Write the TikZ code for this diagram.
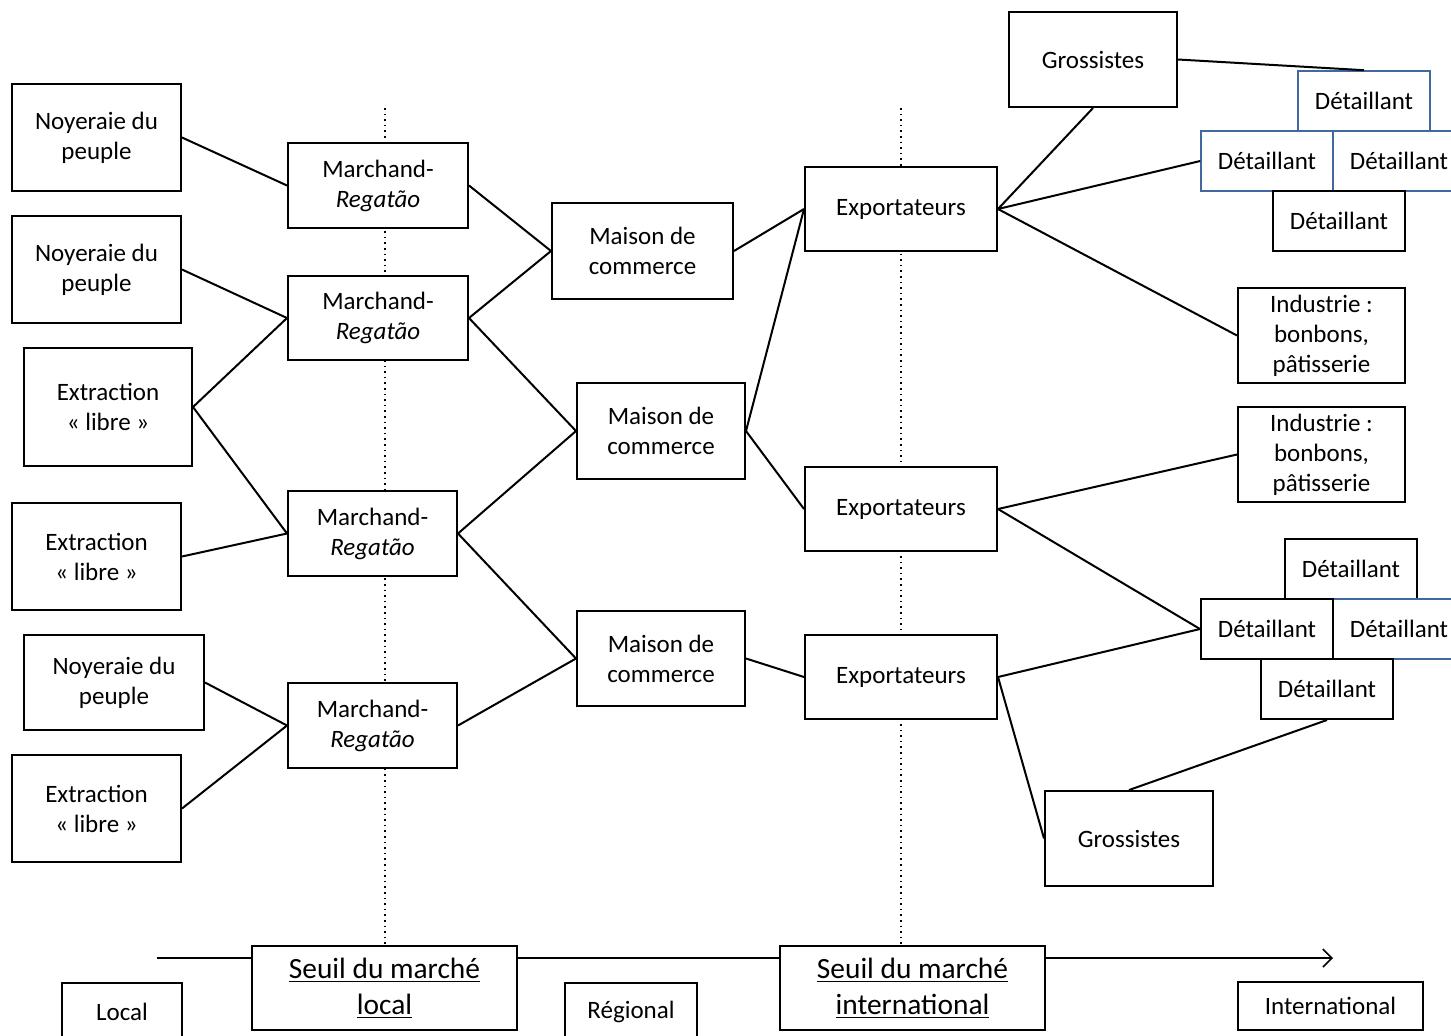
\documentclass[tikz,border=0pt]{standalone}
\usepackage{fontspec}
\setmainfont{Carlito}
\usetikzlibrary{arrows.meta}
\definecolor{bluebox}{RGB}{65,105,160}
\begin{document}
\begin{tikzpicture}[x=0.5pt,y=-0.5pt,
  box/.style={draw=black, line width=1pt, fill=white, align=center, inner sep=0pt,
    font=\fontsize{12.5}{15}\selectfont},
  bbox/.style={box, draw=bluebox, line width=0.8pt},
  det/.style={minimum width=66pt, minimum height=30pt},
  src/.style={minimum width=84.5pt, minimum height=53.5pt},
  mar/.style={minimum width=90pt, minimum height=42.5pt},
  mai/.style={minimum width=84pt, minimum height=48pt},
  exp/.style={minimum width=96pt, minimum height=42pt},
  big/.style={box, font=\fontsize{14.7}{18}\selectfont, minimum width=132.5pt, minimum height=42pt},
  link/.style={line width=1pt},
  guide/.style={dotted, line width=0.8pt}]
\useasboundingbox (0,0) rectangle (1451,1035);
\clip (0,0) rectangle (1451,1035);

% guides and axis (behind boxes)
\coordinate (g1a) at (385,108); \coordinate (g1b) at (385,946);
\coordinate (g2a) at (901,108); \coordinate (g2b) at (901,946);
\draw[guide] (g1a) -- (g1b);
\draw[guide] (g2a) -- (g2b);
\coordinate (axS) at (157,958); \coordinate (axE) at (1333,958);
\draw[line width=1pt, -{Straight Barb[length=4.5pt,width=9pt,line width=0.8pt]}] (axS) -- (axE);

% sources
\node[box, src] (N1) at (96.5,137.5) {Noyeraie du\\peuple};
\node[box, src] (N2) at (96.5,269.5) {Noyeraie du\\peuple};
\node[box, minimum width=84pt, minimum height=59pt] (E1) at (108,407) {Extraction\\« libre »};
\node[box, src] (E2) at (96.5,556.5) {Extraction\\« libre »};
\node[box, minimum width=90pt, minimum height=47.5pt] (N3) at (114,682.5) {Noyeraie du\\peuple};
\node[box, src] (E3) at (96.5,808.5) {Extraction\\« libre »};

% marchands
\node[box, mar] (M1) at (378,185.5) {Marchand-\\\textit{Regatão}};
\node[box, mar, minimum height=42pt] (M2) at (378,318) {Marchand-\\\textit{Regatão}};
\node[box, mar, minimum width=84.5pt] (M3) at (372.5,533.5) {Marchand-\\\textit{Regatão}};
\node[box, mar, minimum width=84.5pt] (M4) at (372.5,725.5) {Marchand-\\\textit{Regatão}};

% maisons
\node[box, mai, minimum width=90.5pt] (H1) at (642.5,251) {Maison de\\commerce};
\node[box, mai] (H2) at (661,431) {Maison de\\commerce};
\node[box, mai, minimum height=47.5pt] (H3) at (661,658.5) {Maison de\\commerce};

% exportateurs
\node[box, exp] (X1) at (901,209) {Exportateurs};
\node[box, exp] (X2) at (901,509) {Exportateurs};
\node[box, exp] (X3) at (901,677) {Exportateurs};

% right side
\node[box, minimum width=84pt, minimum height=47.5pt] (G1) at (1093,59.5) {Grossistes};
\node[bbox, det] (D1) at (1364,101) {Détaillant};
\node[bbox, det] (D2) at (1267,161) {Détaillant};
\node[bbox, det] (D3) at (1399,161) {Détaillant};
\node[box, det] (D4) at (1339,221) {Détaillant};
\node[box, minimum width=83.5pt, minimum height=47.5pt] (I1) at (1321.5,335.5) {Industrie :\\bonbons,\\pâtisserie};
\node[box, minimum width=83.5pt, minimum height=47.5pt] (I2) at (1321.5,454.5) {Industrie :\\bonbons,\\pâtisserie};
\node[box, det] (D5) at (1351,569) {Détaillant};
\node[bbox, det] (D7) at (1399,629) {Détaillant};
\node[box, det] (D6) at (1267,629) {Détaillant};
\node[box, det] (D8) at (1327,689) {Détaillant};
\node[box, minimum width=84pt, minimum height=47.5pt] (G2) at (1129,838.5) {Grossistes};

% bottom scale
\node[box, minimum width=60pt, minimum height=28.5pt] (Lo) at (122,1011.5) {Local};
\node[big] (SL) at (384.5,988) {\underline{Seuil du marché}\\\underline{local}};
\node[box, minimum width=66pt, minimum height=28.5pt] (Re) at (631,1011.5) {Régional};
\node[big] (SI) at (912.5,988) {\underline{Seuil du marché}\\\underline{international}};
\node[box, minimum width=92.5pt, minimum height=24pt] (In) at (1330.5,1006) {International};

% connectors
\draw[link] (N1.east) -- (M1.west);
\draw[link] (N2.east) -- (M2.west);
\draw[link] (E1.east) -- (M2.west);
\draw[link] (E1.east) -- (M3.west);
\draw[link] (E2.east) -- (M3.west);
\draw[link] (N3.east) -- (M4.west);
\draw[link] (E3.east) -- (M4.west);
\draw[link] (M1.east) -- (H1.west);
\draw[link] (M2.east) -- (H1.west);
\draw[link] (M2.east) -- (H2.west);
\draw[link] (M3.east) -- (H2.west);
\draw[link] (M3.east) -- (H3.west);
\draw[link] (M4.east) -- (H3.west);
\draw[link] (H1.east) -- (X1.west);
\draw[link] (H2.east) -- (X1.west);
\draw[link] (H2.east) -- (X2.west);
\draw[link] (H3.east) -- (X3.west);
\draw[link] (X1.east) -- (G1.south);
\draw[link] (X1.east) -- (D2.west);
\draw[link] (X1.east) -- (I1.west);
\draw[link] (G1.east) -- (D1.north);
\draw[link] (X2.east) -- (I2.west);
\draw[link] (X2.east) -- (D6.west);
\draw[link] (X3.east) -- (D6.west);
\draw[link] (X3.east) -- (G2.west);
\draw[link] (G2.north) -- (D8.south);
\end{tikzpicture}
\end{document}
